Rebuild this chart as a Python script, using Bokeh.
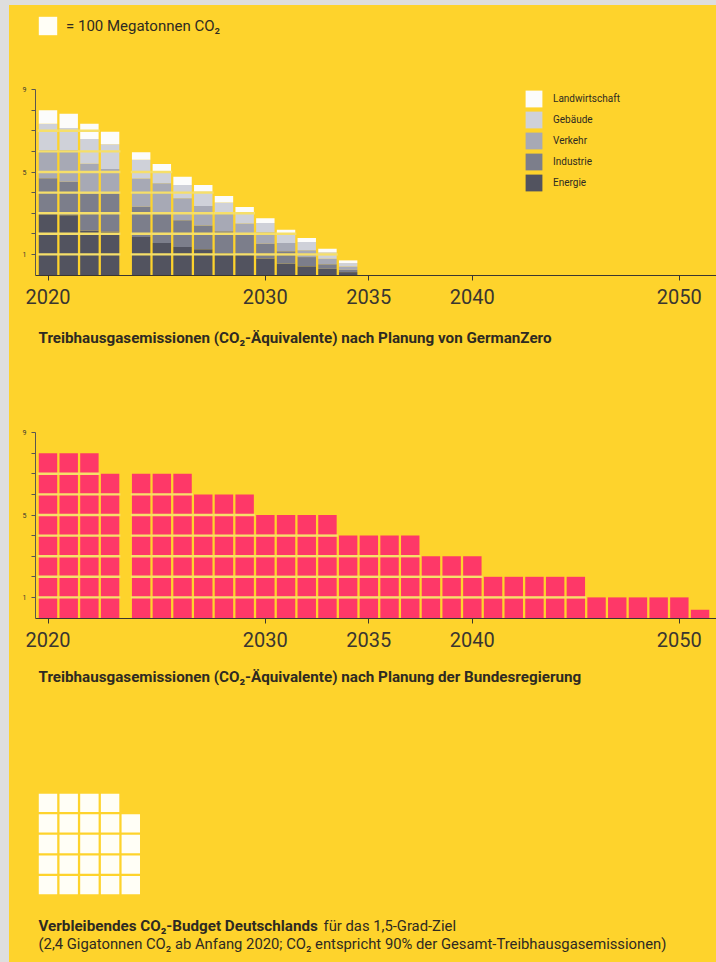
from bokeh.plotting import figure
from bokeh.layouts import column, row
from bokeh.models import Range1d, FixedTicker, Legend, LegendItem, ColumnDataSource, Spacer
from bokeh.core.properties import value
from bokeh.embed import file_html
from bokeh.resources import INLINE

# ---------------- data ----------------
UNIT_MT = 100  # one square = 100 Megatonnen CO2

GZ_YEARS = [2020, 2021, 2022, 2023, 2024, 2025, 2026, 2027, 2028, 2029, 2030, 2031, 2032, 2033, 2034]
GZ_ENERGIE = [300, 290, 215, 210, 184, 155, 136, 125, 107, 100, 80, 55, 42, 30, 14]
GZ_INDUSTRIE = [170, 163, 180, 185, 147, 145, 130, 115, 105, 95, 72, 60, 45, 22, 11]
GZ_VERKEHR = [137, 154, 145, 120, 138, 145, 106, 95, 85, 55, 55, 40, 33, 27, 16]
GZ_GEBAEUDE = [127, 106, 120, 120, 90, 60, 65, 70, 55, 50, 45, 45, 40, 32, 17]
GZ_LANDWIRTSCHAFT = [66, 70, 74, 60, 37, 34, 40, 32, 31, 30, 23, 20, 20, 17, 13]
SECTORS = ["Energie", "Industrie", "Verkehr", "Gebäude", "Landwirtschaft"]

BR_YEARS = list(range(2020, 2052))
BR_TOTAL = [800, 800, 800, 700, 700, 700, 700, 600, 600, 600, 500, 500, 500, 500,
            400, 400, 400, 400, 300, 300, 300, 200, 200, 200, 200, 200,
            100, 100, 100, 100, 100, 40]

BUDGET_MT = 2400
TICK_YEARS = [2020, 2030, 2035, 2040, 2050]
Y_TICKS = [1, 2, 3, 4, 5, 6, 7, 8, 9]
Y_LABELS = {1: "1", 5: "5", 9: "9"}

# ---------------- style / layout ----------------
BG = "#fed32c"
PAGE_GREY = "#dedede"
GRIDLINE = "#f6df6a"
TXT = "#2e2a22"
AX = "#3a3630"
PINK = "#fe3868"
SECTOR_COLORS = ["#52535f", "#7c7e8b", "#a7a9b5", "#cfd1d9", "#fcfcfb"]
CELL_WHITE = "#fffef6"
FONT = "Roboto"
PAGE_W, PAGE_H = 716, 962
EDGE_L = 9        # grey strip on the left
EDGE_T = 5        # grey strip on top
W = PAGE_W - EDGE_L
PITCH = 20.7
UNIT = 20.6
BAR_W = 0.89
GAP_AFTER = 2023
GAP = 0.5
COL0_PX = 47.5     # page x of the 2020 column centre
AXIS_PX = 35       # page x of the y axis


def px_x(page_x):
    return (page_x - COL0_PX) / PITCH


X0 = px_x(EDGE_L)
X1 = px_x(PAGE_W)


def pos(year):
    return (year - 2020) + (GAP if year > GAP_AFTER else 0)


def make_fig(page_top, page_bottom, page_base):
    height = page_bottom - page_top
    y1 = (page_base - page_top) / UNIT
    y0 = -(page_bottom - page_base) / UNIT
    p = figure(width=W, height=height, x_range=Range1d(X0, X1), y_range=Range1d(y0, y1),
               output_backend="svg", toolbar_location=None,
               min_border_left=0, min_border_right=0, min_border_top=0, min_border_bottom=0)
    p.background_fill_color = BG
    p.border_fill_color = BG
    p.outline_line_color = None
    p.grid.visible = False
    return p


def style_axes(p):
    xa = p.xaxis[0]
    xa.fixed_location = 0
    xa.bounds = (px_x(AXIS_PX), X1)
    xa.ticker = FixedTicker(ticks=[pos(y) for y in TICK_YEARS])
    xa.major_label_overrides = {pos(y): str(y) for y in TICK_YEARS}
    xa.major_label_text_font = FONT
    xa.major_label_text_font_size = "20px"
    xa.major_label_text_color = AX
    xa.major_tick_out = 5
    xa.major_tick_in = 0
    xa.minor_tick_line_color = None
    xa.major_label_standoff = 9
    xa.axis_line_color = AX
    xa.axis_line_width = 1.2
    xa.major_tick_line_color = AX

    ya = p.yaxis[0]
    ya.fixed_location = px_x(AXIS_PX)
    ya.bounds = (0, 9)
    ya.ticker = FixedTicker(ticks=Y_TICKS)
    ya.major_label_overrides = {t: Y_LABELS.get(t, "") for t in Y_TICKS}
    ya.major_label_text_font = FONT
    ya.major_label_text_font_size = "7px"
    ya.major_label_text_color = AX
    ya.major_tick_out = 4
    ya.major_tick_in = 0
    ya.minor_tick_line_color = None
    ya.major_label_standoff = 5
    ya.axis_line_color = "#5a5650"
    ya.major_tick_line_color = "#5a5650"


def cell_lines(p, xs, totals):
    x0s, x1s, ys = [], [], []
    for x, t in zip(xs, totals):
        k = 1
        while k < t - 1e-9:
            x0s.append(x - 0.5)
            x1s.append(x + 0.5)
            ys.append(k)
            k += 1
    p.segment(x0=x0s, y0=ys, x1=x1s, y1=ys, line_color=GRIDLINE, line_width=2.4)


def add_text(p, page_x, y, text, size, bold=False, color=TXT):
    p.text(x=[px_x(page_x)], y=[y], text=[text], text_font=value(FONT),
           text_font_size=size, text_font_style="bold" if bold else "normal",
           text_color=color, text_baseline="middle", text_align="left")


def key_legend(items, loc, font_size, standoff, glyph):
    return Legend(items=items, location=loc, orientation="vertical",
                  glyph_width=glyph, glyph_height=glyph, label_height=glyph, spacing=0,
                  padding=0, margin=0, label_standoff=standoff,
                  label_text_font=FONT, label_text_font_size=font_size,
                  label_text_color=TXT,
                  background_fill_alpha=0, border_line_color=None)


# ---------------- chart 1: GermanZero ----------------
T1, E1, B1 = EDGE_T, 360, 274.5
p1 = make_fig(T1, E1, B1)
style_axes(p1)

gz_x = [pos(y) for y in GZ_YEARS]
series = [GZ_ENERGIE, GZ_INDUSTRIE, GZ_VERKEHR, GZ_GEBAEUDE, GZ_LANDWIRTSCHAFT]
bottom = [0.0] * len(GZ_YEARS)
renderers = []
for vals, col in zip(series, SECTOR_COLORS):
    top = [b + v / UNIT_MT for b, v in zip(bottom, vals)]
    src = ColumnDataSource(dict(x=gz_x, bottom=bottom, top=top))
    r = p1.vbar(x="x", bottom="bottom", top="top", width=BAR_W, source=src,
                fill_color=col, line_color=None)
    renderers.append(r)
    bottom = top
cell_lines(p1, gz_x, bottom)

items = [LegendItem(label=s, renderers=[r]) for s, r in zip(SECTORS, renderers)][::-1]
p1.add_layout(key_legend(items, (523 - EDGE_L, E1 - 192.6), "10px", 9, 21))

# key for "one square = 100 Mt" (kept outside the visible ranges; only its legend key shows)
unit_r = p1.rect(x=[X0 - 10], y=[-100], width=1, height=1, fill_color=CELL_WHITE, line_color=None)
p1.add_layout(key_legend([LegendItem(label="= 100 Megatonnen CO₂", renderers=[unit_r])],
                         (36 - EDGE_L, E1 - 37.3), "15px", 7, 23))

add_text(p1, 38, -(337 - B1) / UNIT,
         "Treibhausgasemissionen (CO₂-Äquivalente) nach Planung von GermanZero", "15.2px", bold=True)

# ---------------- chart 2: Bundesregierung ----------------
T2, E2, B2 = 360, 700, 617.5
p2 = make_fig(T2, E2, B2)
style_axes(p2)
br_x = [pos(y) for y in BR_YEARS]
br_top = [v / UNIT_MT for v in BR_TOTAL]
p2.vbar(x=br_x, top=br_top, bottom=0, width=BAR_W, fill_color=PINK, line_color=None)
cell_lines(p2, br_x, br_top)
add_text(p2, 38, -(676 - B2) / UNIT,
         "Treibhausgasemissionen (CO₂-Äquivalente) nach Planung der Bundesregierung", "15.2px", bold=True)

# ---------------- budget ----------------
T3, E3, B3 = 700, PAGE_H, 895
p3 = make_fig(T3, E3, B3)
p3.axis.visible = False
n_cells = int(round(BUDGET_MT / UNIT_MT))
COLS = 5
bx = [i % COLS for i in range(n_cells)]
by = [i // COLS + 0.5 for i in range(n_cells)]
p3.rect(x=bx, y=by, width=BAR_W, height=0.89, fill_color=CELL_WHITE, line_color=None)
y_l1 = -(925 - B3) / UNIT
y_l2 = -(943 - B3) / UNIT
add_text(p3, 38, y_l1, "Verbleibendes CO₂-Budget Deutschlands", "15.2px", bold=True)
add_text(p3, 323, y_l1, "für das 1,5-Grad-Ziel", "14.8px")
add_text(p3, 38, y_l2,
         "(2,4 Gigatonnen CO₂ ab Anfang 2020; CO₂ entspricht 90% der Gesamt-Treibhausgasemissionen)", "14.8px")

top_strip = Spacer(width=W, height=EDGE_T, styles={"background-color": PAGE_GREY})
left_strip = Spacer(width=EDGE_L, height=PAGE_H, styles={"background-color": PAGE_GREY})
charts = column(top_strip, p1, p2, p3, spacing=0)
charts.styles = {"background-color": BG}
layout = row(left_strip, charts, spacing=0)
open("out.html", "w").write(file_html(layout, INLINE))
